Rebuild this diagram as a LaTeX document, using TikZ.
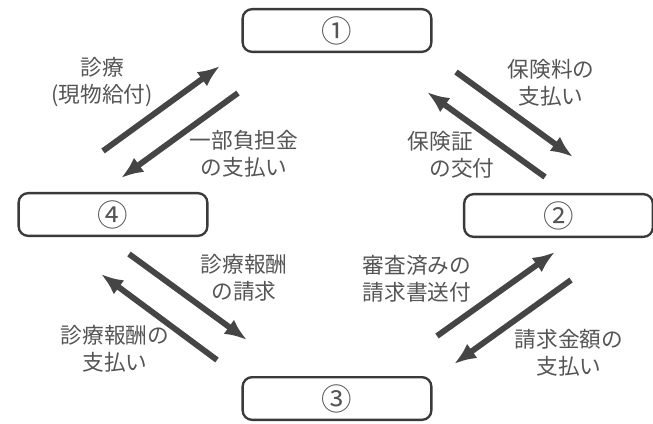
\documentclass[tikz,border=0pt]{standalone}
\usepackage{fontspec}
\setmainfont{Noto Sans CJK JP}
\usetikzlibrary{arrows.meta}
\definecolor{ink}{HTML}{3A3A3A}
\definecolor{txt}{HTML}{555555}
\definecolor{flowc}{HTML}{454545}

\begin{document}
\begin{tikzpicture}[x=0.03cm, y=-0.03cm,
    party/.style = {draw=ink, line width=2pt, rounded corners=8pt, minimum width=5.66cm, minimum height=1.28cm, text=txt, font=\fontsize{26}{30}\selectfont, inner sep=0pt},
    lbl/.style = {text=txt, align=center, font=\fontsize{18.5}{23.5}\selectfont, inner sep=0pt},
    flow/.style = {draw=flowc, line width=5pt, -{Latex[length=19pt, width=15pt]}}]
    \useasboundingbox (0,0) rectangle (653,423);

    \node[party] (A) at (337,30.5) {①};
    \node[party] (B) at (558.5,215.5) {②};
    \node[party] (C) at (337,398.5) {③};
    \node[party] (D) at (113,214.5) {④};

    \coordinate (da1) at (103,151);
    \coordinate (da2) at (220,66);
    \coordinate (ad1) at (238,93);
    \coordinate (ad2) at (121,178);
    \coordinate (ab1) at (456,72);
    \coordinate (ab2) at (573,157);
    \coordinate (ba1) at (545,177);
    \coordinate (ba2) at (427,92);
    \coordinate (dc1) at (129,254);
    \coordinate (dc2) at (247,340);
    \coordinate (cd1) at (217,360);
    \coordinate (cd2) at (101,274);
    \coordinate (cb1) at (437,336);
    \coordinate (cb2) at (555,252);
    \coordinate (bc1) at (571,280);
    \coordinate (bc2) at (454,364);

    \draw[flow] (da1) -- (da2);
    \draw[flow] (ad1) -- (ad2);
    \draw[flow] (ab1) -- (ab2);
    \draw[flow] (ba1) -- (ba2);
    \draw[flow] (dc1) -- (dc2);
    \draw[flow] (cd1) -- (cd2);
    \draw[flow] (cb1) -- (cb2);
    \draw[flow] (bc1) -- (bc2);

    \node[lbl] (shinryo) at (102,82) {診療\\(現物給付)};
    \node[lbl] (ichibu) at (244,154) {一部負担金\\の支払い};
    \node[lbl] (hokenryo) at (551,83) {保険料の\\支払い};
    \node[lbl, align=left] (hokensho) at (451,155) {保険証\\\hspace*{1em}の交付};
    \node[lbl] (seikyu) at (244,278) {診療報酬\\の請求};
    \node[lbl] (hoshu) at (115,349) {診療報酬の\\支払い};
    \node[lbl] (shinsa) at (417,279) {審査済みの\\請求書送付};
    \node[lbl] (kingaku) at (569,353) {請求金額の\\支払い};
\end{tikzpicture}
\end{document}
